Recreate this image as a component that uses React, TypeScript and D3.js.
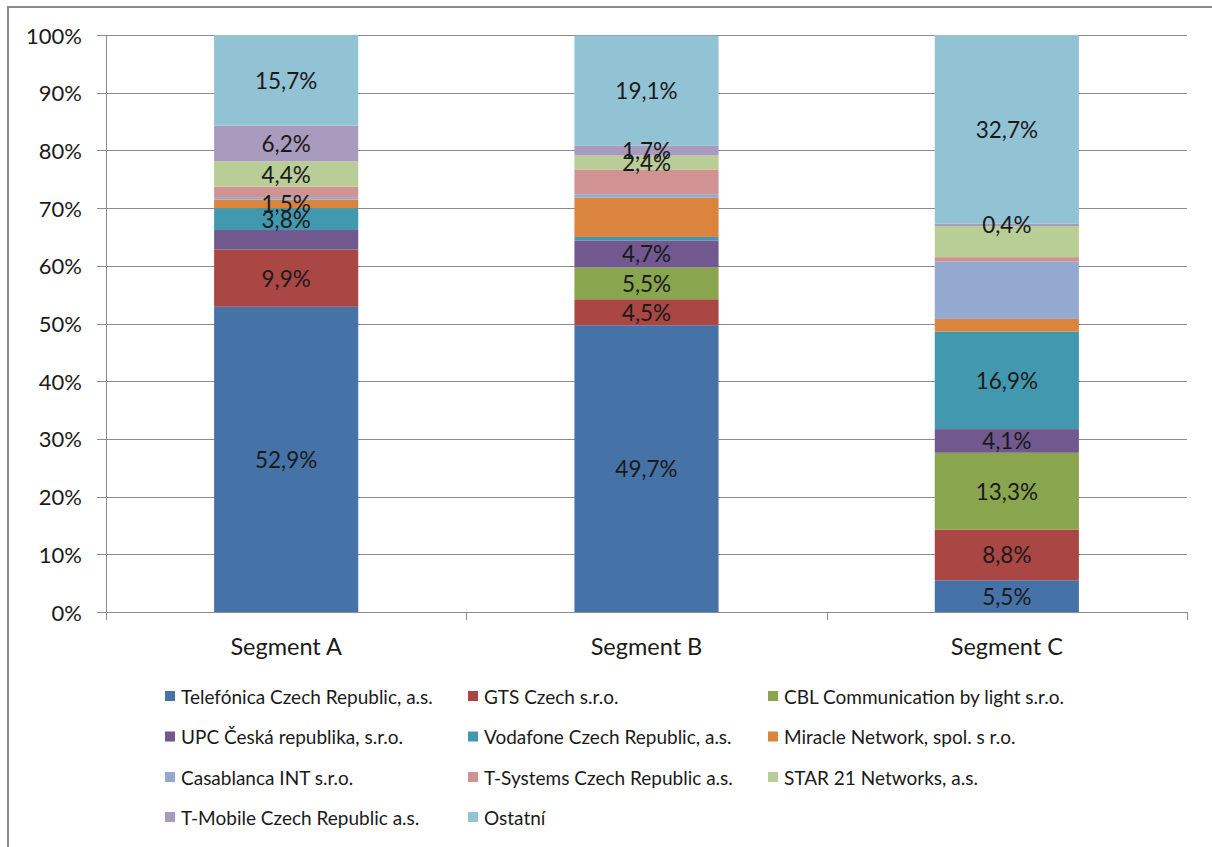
import React from "react";
import * as d3 from "d3";

const categories = ["Segment A", "Segment B", "Segment C"];

const seriesNames = [
  "Telefónica Czech Republic, a.s.",
  "GTS Czech s.r.o.",
  "CBL Communication by light s.r.o.",
  "UPC Česká republika, s.r.o.",
  "Vodafone Czech Republic, a.s.",
  "Miracle Network, spol. s r.o.",
  "Casablanca INT s.r.o.",
  "T-Systems Czech Republic a.s.",
  "STAR 21 Networks, a.s.",
  "T-Mobile Czech Republic a.s.",
  "Ostatní",
];

const seriesColors = [
  "#4572A7",
  "#AA4643",
  "#89A54E",
  "#71588F",
  "#4198AF",
  "#DB843D",
  "#93A9CF",
  "#D19392",
  "#B9CD96",
  "#A99BBD",
  "#92C3D5",
];

// values per series: [Segment A, Segment B, Segment C]
const telefonica = [52.9, 49.7, 5.5];
const gts = [9.9, 4.5, 8.8];
const cbl = [0, 5.5, 13.3];
const upc = [3.4, 4.7, 4.1];
const vodafone = [3.8, 0.6, 16.9];
const miracle = [1.5, 6.8, 2.2];
const casablanca = [0.4, 0.6, 9.9];
const tsystems = [1.8, 4.3, 0.8];
const star21 = [4.4, 2.4, 5.4];
const tmobile = [6.2, 1.7, 0.4];
const ostatni = [15.7, 19.1, 32.7];

const seriesValues = [
  telefonica, gts, cbl, upc, vodafone, miracle, casablanca, tsystems, star21, tmobile, ostatni,
];

// which data labels are shown (per series, per segment)
const labelShown = [
  [true, true, true],
  [true, true, true],
  [false, true, true],
  [false, true, true],
  [true, false, true],
  [true, false, false],
  [false, false, false],
  [false, false, false],
  [true, true, false],
  [true, true, true],
  [true, true, true],
];

const yTicks = [0, 10, 20, 30, 40, 50, 60, 70, 80, 90, 100];

const FONT = "Lato, 'Open Sans', sans-serif";

export default function App() {
  const W = 1212;
  const H = 847;
  const left = 106;
  const right = 1187;
  const top = 35;
  const bottom = 612;

  const x = d3.scaleBand<string>().domain(categories).range([left, right]).padding(0);
  const y = d3.scaleLinear().domain([0, 100]).range([bottom, top]);
  const barW = x.bandwidth() * 0.4;

  const table = categories.map((c, ci) => {
    const row: any = { cat: c };
    seriesNames.forEach((s, si) => (row[s] = seriesValues[si][ci]));
    return row;
  });
  const stacked = d3.stack<any>().keys(seriesNames)(table);

  const gridColor = "#8C8C8C";
  const textColor = "#1A1A1A";

  const legendCols = [165, 468, 768];
  const legendRows = [696, 736.5, 777, 817];

  const fmt = (v: number) => v.toFixed(1).replace(".", ",") + "%";

  return (
    <svg
      width={W}
      height={H}
      style={{ position: "absolute", left: 0, top: 0, background: "#fff" }}
      fontFamily={FONT}
    >
      <rect x={0} y={0} width={W} height={H} fill="#fff" />
      <rect x={8} y={7} width={W + 20} height={H + 20} fill="none" stroke="#8C8C8C" strokeWidth={2} />

      {/* gridlines + y ticks */}
      {yTicks.map((t) => (
        <g key={t}>
          <line x1={97} x2={right} y1={Math.round(y(t)) + 0.5} y2={Math.round(y(t)) + 0.5} stroke={gridColor} strokeWidth={1} />
          <text
            x={82}
            y={y(t)}
            textAnchor="end"
            dominantBaseline="central"
            fontSize={22}
            fill={textColor}
          >
            {t}%
          </text>
        </g>
      ))}

      {/* bars */}
      {stacked.map((layer, si) => (
        <g key={si} fill={seriesColors[si]}>
          {layer.map((d, ci) => {
            const cx = (x(categories[ci]) as number) + x.bandwidth() / 2;
            const y0 = y(d[0]);
            const y1 = y(d[1]);
            if (y0 - y1 <= 0) return null;
            return <rect key={ci} x={cx - barW / 2} y={y1} width={barW} height={y0 - y1} />;
          })}
        </g>
      ))}

      {/* data labels */}
      {stacked.map((layer, si) =>
        layer.map((d, ci) => {
          if (!labelShown[si][ci]) return null;
          const cx = (x(categories[ci]) as number) + x.bandwidth() / 2;
          const cy = (y(d[0]) + y(d[1])) / 2;
          return (
            <text
              key={si + "-" + ci}
              x={cx}
              y={cy}
              textAnchor="middle"
              dominantBaseline="central"
              fontSize={22.5}
              fill={textColor}
            >
              {fmt(seriesValues[si][ci])}
            </text>
          );
        })
      )}

      {/* axes */}
      <line x1={left + 0.5} x2={left + 0.5} y1={top} y2={bottom} stroke={gridColor} />
      <line x1={left} x2={right} y1={bottom + 0.5} y2={bottom + 0.5} stroke={gridColor} />
      {[...categories.map((c) => x(c) as number), right].map((tx, i) => (
        <line key={i} x1={Math.round(tx) + 0.5} x2={Math.round(tx) + 0.5} y1={bottom} y2={bottom + 8} stroke={gridColor} />
      ))}
      {categories.map((c) => (
        <text
          key={c}
          x={(x(c) as number) + x.bandwidth() / 2}
          y={646}
          textAnchor="middle"
          dominantBaseline="central"
          fontSize={23.5}
          fill={textColor}
        >
          {c}
        </text>
      ))}

      {/* legend */}
      {seriesNames.map((s, i) => {
        const col = i % 3;
        const row = Math.floor(i / 3);
        const lx = legendCols[col];
        const ly = legendRows[row];
        return (
          <g key={s}>
            <rect x={lx} y={ly - 5} width={10} height={10} fill={seriesColors[i]} />
            <text x={lx + 16} y={ly} dominantBaseline="central" fontSize={19} fill={textColor}>
              {s}
            </text>
          </g>
        );
      })}
    </svg>
  );
}
